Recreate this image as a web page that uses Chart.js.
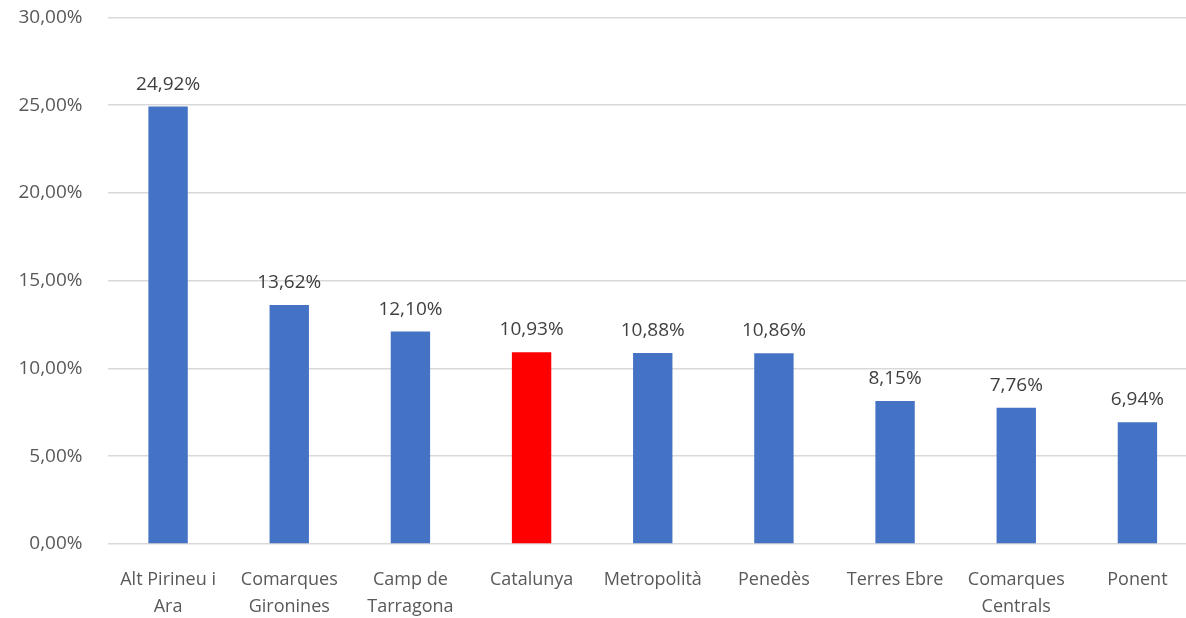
<!DOCTYPE html>
<html>
<head>
<meta charset="utf-8">
<script src="https://cdn.jsdelivr.net/npm/chart.js@4"></script>
<style>
  html, body { margin:0; padding:0; background:#fff; }
  #wrap { width:1186px; height:618px; overflow:hidden; }
  #chart { display:block; margin-top:-19px; }
</style>
</head>
<body>
<div id="wrap"><canvas id="chart" width="1200" height="637"></canvas></div>
<script>
const categories = [['Alt Pirineu i','Ara'], ['Comarques','Gironines'], ['Camp de','Tarragona'], 'Catalunya', 'Metropolità', 'Penedès', 'Terres Ebre', ['Comarques','Centrals'], 'Ponent']
const values = [24.92, 13.62, 12.10, 10.93, 10.88, 10.86, 8.15, 7.76, 6.94]
const highlight = 'Catalunya'
const yTicks = [0, 5, 10, 15, 20, 25, 30]

const fontFamily = "'Open Sans', 'Noto Sans', sans-serif"
const fmt = v => v.toFixed(2).replace('.', ',') + '%'

const barLabels = {
  id:'barLabels',
  afterDatasetsDraw(chart) {
    const ctx = chart.ctx
    const meta = chart.getDatasetMeta(0)
    ctx.save()
    ctx.font = '19px ' + fontFamily
    ctx.fillStyle = '#404040'
    ctx.textAlign = 'center'
    ctx.textBaseline = 'alphabetic'
    meta.data.forEach((bar, i) => {
      ctx.fillText(fmt(values[i]), bar.x, bar.y - 17)
    })
    ctx.restore()
  }
}

function initChart() {
  try {
    const ctx = document.getElementById('chart')
    new Chart(ctx, {
      type:'bar',
      data:{
        labels:categories,
        datasets:[{
          data:values,
          backgroundColor:categories.map(c => c === highlight ? '#FF0000' : '#4472C4'),
          categoryPercentage:1,
          barPercentage:0.325
        }]
      },
      options:{
        responsive:false,
        animation:false,
        layout:{padding:{top:4, right:2, left:0, bottom:0}},
        plugins:{legend:{display:false}, tooltip:{enabled:false}},
        scales:{
          x:{
            grid:{display:false},
            border:{display:false},
            ticks:{color:'#595959', font:{family:fontFamily, size:18, lineHeight:1.53}, maxRotation:0, autoSkip:false, padding:14},
            afterFit(s) { s.height = 74 }
          },
          y:{
            min:0, max:30,
            grid:{color:'#d9d9d9', lineWidth:1.5, drawTicks:false},
            border:{display:false},
            afterBuildTicks(s) { s.ticks = yTicks.map(v => ({value:v})) },
            ticks:{color:'#595959', font:{family:fontFamily, size:19}, padding:25, callback:v => fmt(v)},
            afterFit(s) { s.width = 107.5 }
          }
        }
      },
      plugins:[barLabels]
    })
  } catch(e) {
    console.error('Chart init error:', e)
  }
}

document.addEventListener('DOMContentLoaded', initChart)
</script>
</body>
</html>
